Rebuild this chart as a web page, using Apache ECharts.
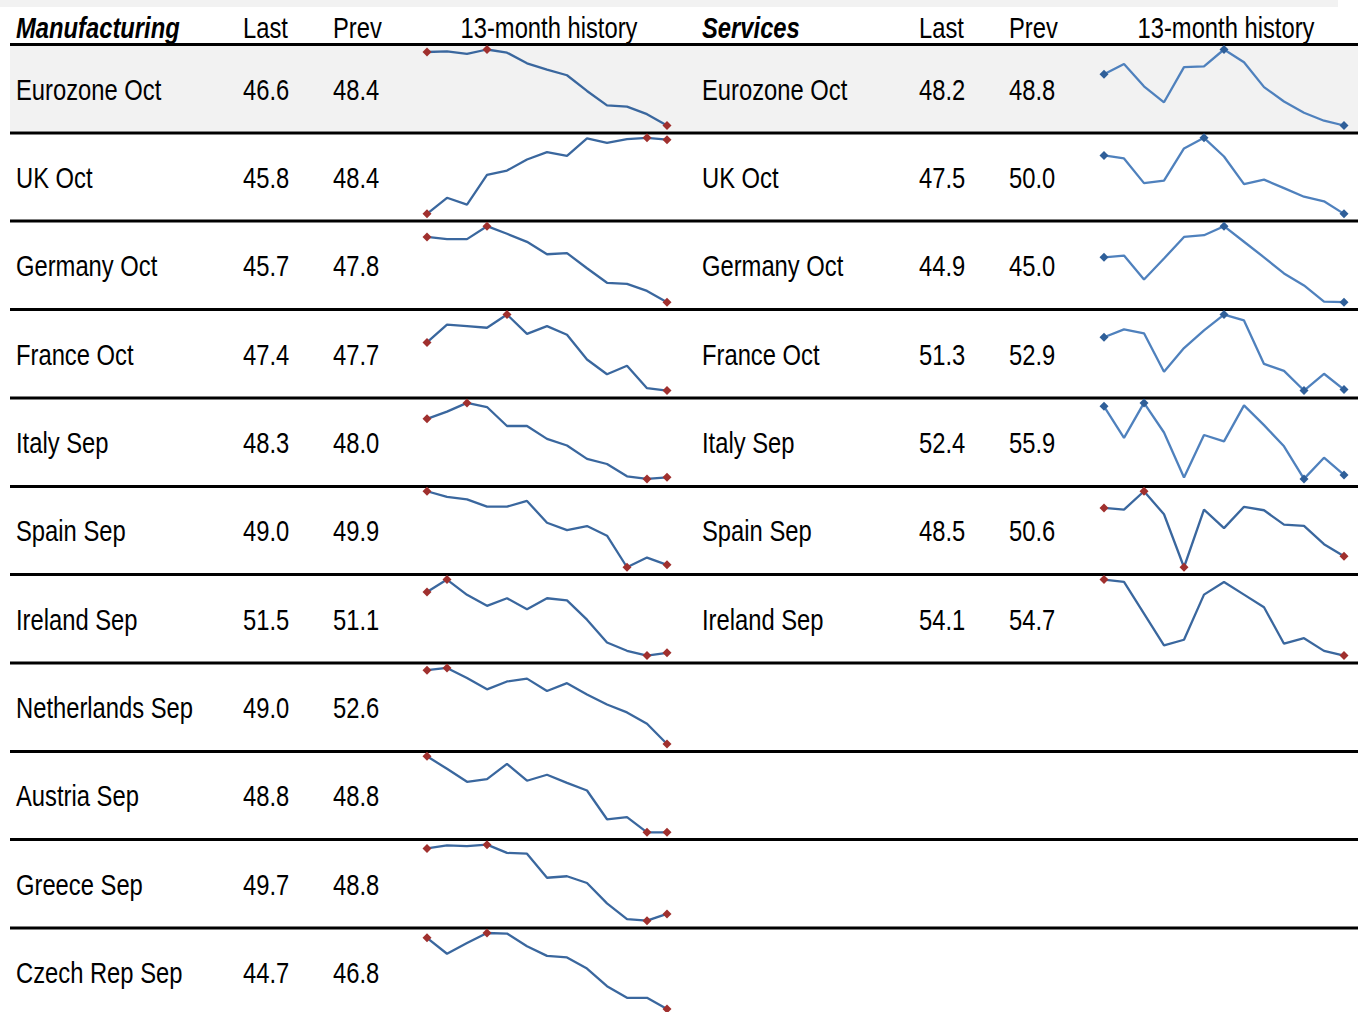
<!DOCTYPE html>
<html><head><meta charset="utf-8">
<script src="https://cdn.jsdelivr.net/npm/echarts@6/dist/echarts.min.js"></script>
<style>html,body{margin:0;padding:0;background:#fff}#c{width:1365px;height:1012px}</style>
</head><body><div id="c"></div>
<script>
// ---- data ----
const mfgHeader = ['Manufacturing', 'Last', 'Prev', '13-month history'];
const srvHeader = ['Services', 'Last', 'Prev', '13-month history'];

const mfgNames = ['Eurozone Oct', 'UK Oct', 'Germany Oct', 'France Oct', 'Italy Sep', 'Spain Sep', 'Ireland Sep', 'Netherlands Sep', 'Austria Sep', 'Greece Sep', 'Czech Rep Sep'];
const mfgLast = ['46.6', '45.8', '45.7', '47.4', '48.3', '49.0', '51.5', '49.0', '48.8', '49.7', '44.7'];
const mfgPrev = ['48.4', '48.4', '47.8', '47.7', '48.0', '49.9', '51.1', '52.6', '48.8', '48.8', '46.8'];

const srvNames = ['Eurozone Oct', 'UK Oct', 'Germany Oct', 'France Oct', 'Italy Sep', 'Spain Sep', 'Ireland Sep'];
const srvLast = ['48.2', '47.5', '44.9', '51.3', '52.4', '48.5', '54.1'];
const srvPrev = ['48.8', '50.0', '45.0', '52.9', '55.9', '50.6', '54.7'];

// 13-month histories (as plotted, left to right)
const mEurozone = [58.3, 58.4, 58.0, 58.7, 58.2, 56.5, 55.5, 54.6, 52.1, 49.8, 49.6, 48.4, 46.6];
const mUK = [45.8, 48.4, 47.3, 52.1, 52.8, 54.6, 55.8, 55.2, 58.0, 57.3, 57.9, 58.1, 57.8];
const mGermany = [57.8, 57.4, 57.4, 59.8, 58.4, 56.9, 54.6, 54.8, 52.0, 49.3, 49.1, 47.8, 45.7];
const mFrance = [53.6, 55.9, 55.7, 55.5, 57.2, 54.7, 55.7, 54.6, 51.4, 49.5, 50.6, 47.7, 47.4];
const mItaly = [59.7, 61.1, 62.8, 62.0, 58.3, 58.3, 55.8, 54.5, 51.9, 50.9, 48.5, 48.0, 48.3];
const mSpain = [58.1, 57.4, 57.1, 56.2, 56.2, 56.9, 54.2, 53.3, 53.8, 52.6, 48.7, 49.9, 49.0];
const mIreland = [60.3, 62.1, 59.9, 58.3, 59.4, 57.8, 59.4, 59.1, 56.3, 53.0, 51.8, 51.1, 51.5];
const mNetherlands = [62.1, 62.5, 60.7, 58.7, 60.1, 60.6, 58.4, 59.8, 57.8, 56.0, 54.6, 52.6, 49.0];
const mAustria = [62.8, 60.5, 58.1, 58.6, 61.4, 58.3, 59.4, 57.9, 56.5, 51.2, 51.6, 48.8, 48.8];
const mGreece = [58.4, 58.8, 58.7, 58.9, 57.8, 57.7, 54.5, 54.7, 53.8, 51.1, 49.0, 48.8, 49.7];
const mCzech = [58.1, 55.1, 57.1, 59.0, 58.9, 56.5, 54.7, 54.4, 52.3, 49.0, 46.8, 46.8, 44.7];

const sEurozone = [54.6, 55.9, 53.1, 51.1, 55.5, 55.6, 57.7, 56.1, 53.0, 51.2, 49.8, 48.8, 48.2];
const sUK = [59.1, 58.5, 53.6, 54.1, 60.5, 62.6, 58.9, 53.4, 54.3, 52.6, 50.9, 50.0, 47.5];
const sGermany = [52.4, 52.7, 48.7, 52.2, 55.8, 56.1, 57.6, 55.0, 52.4, 49.7, 47.7, 45.0, 44.9];
const sFrance = [56.6, 57.4, 57.0, 53.1, 55.5, 57.3, 58.9, 58.3, 53.9, 53.2, 51.2, 52.9, 51.3];
const sItaly = [66.3, 59.9, 67.0, 61.0, 51.9, 60.5, 59.2, 66.5, 62.5, 58.2, 51.6, 55.9, 52.4];
const sSpain = [56.9, 56.6, 59.8, 55.8, 46.6, 56.6, 53.4, 57.1, 56.5, 54.0, 53.8, 50.6, 48.5];
const sIreland = [63.7, 63.4, 59.4, 55.4, 56.1, 61.8, 63.4, 61.8, 60.2, 55.6, 56.3, 54.7, 54.1];

const mfgHistory = [mEurozone, mUK, mGermany, mFrance, mItaly, mSpain, mIreland, mNetherlands, mAustria, mGreece, mCzech];
const srvHistory = [sEurozone, sUK, sGermany, sFrance, sItaly, sSpain, sIreland];
const months = ['1','2','3','4','5','6','7','8','9','10','11','12','13'];

// ---- styles ----
const FONT = "'Liberation Sans', Arial, sans-serif";
const NARROW = 0.82; // emulate a narrow face
const styleRed = { line: '#3a679e', mark: '#a0302e' };
const styleBlue = { line: '#4f81bd', mark: '#2f5f99' };
const srvStyles = [styleBlue, styleBlue, styleBlue, styleBlue, styleBlue, styleRed, styleRed];

const ROW0 = 44.5, ROWH = 88.35;
const lineY = k => ROW0 + k * ROWH;

const mfgCols = { name: 16, last: 243, prev: 333, histLeft: 427, histCenter: 549 };
const srvCols = { name: 702, last: 919, prev: 1009, histLeft: 1104, histCenter: 1226 };

const chart = echarts.init(document.getElementById('c'), null, { renderer: 'svg' });

const grids = [], xAxes = [], yAxes = [], series = [], graphics = [];

// background elements
graphics.push({ type: 'rect', shape: { x: 0, y: 0, width: 1338, height: 7 }, style: { fill: '#f2f2f2' }, z: 0 });
graphics.push({ type: 'rect', shape: { x: 10, y: lineY(0) + 1.5, width: 1348, height: ROWH - 3 }, style: { fill: '#f2f2f2' }, z: 0 });
for (let k = 0; k <= 10; k++) {
  const y = Math.round(lineY(k) * 2) / 2;
  graphics.push({ type: 'line', shape: { x1: 10, y1: y, x2: 1358, y2: y }, style: { stroke: '#000', lineWidth: 3.2 }, z: 1 });
}

function addText(x, y, text, opts) {
  graphics.push({
    type: 'text', x: x, y: y, z: 5, scaleX: NARROW, scaleY: 1,
    style: Object.assign({ text: text, font: '29px ' + FONT, fill: '#000', textAlign: 'left', textVerticalAlign: 'middle' }, opts || {})
  });
}

function headers(h, cols) {
  addText(cols.name, 28, h[0], { font: 'italic bold 29px ' + FONT });
  addText(cols.last, 28, h[1]);
  addText(cols.prev, 28, h[2]);
  addText(cols.histCenter, 28, h[3], { textAlign: 'center' });
}
headers(mfgHeader, mfgCols);
headers(srvHeader, srvCols);

function addRow(i, name, last, prev, hist, cols, st) {
  const cy = (lineY(i) + lineY(i + 1)) / 2 + 1;
  addText(cols.name, cy, name);
  addText(cols.last, cy, last);
  addText(cols.prev, cy, prev);

  const gi = grids.length;
  grids.push({ left: cols.histLeft, width: 240, top: lineY(i) + 5, height: 76, containLabel: false });
  xAxes.push({ type: 'category', gridIndex: gi, data: months, boundaryGap: false, show: false });
  yAxes.push({ type: 'value', gridIndex: gi, min: 'dataMin', max: 'dataMax', show: false, scale: true });

  const mx = Math.max.apply(null, hist), mn = Math.min.apply(null, hist);
  const marked = new Set([0, hist.length - 1, hist.indexOf(mx), hist.indexOf(mn)]);
  const data = hist.map((v, j) => marked.has(j)
    ? { value: v, symbol: 'diamond', symbolSize: 9, itemStyle: { color: st.mark } }
    : { value: v, symbol: 'none' });
  series.push({
    type: 'line', xAxisIndex: gi, yAxisIndex: gi, data: data,
    symbol: 'none', showAllSymbol: true, clip: false, silent: true,
    lineStyle: { color: st.line, width: 2.3 }, itemStyle: { color: st.mark },
    animation: false, z: 3
  });
}

mfgNames.forEach((n, i) => addRow(i, n, mfgLast[i], mfgPrev[i], mfgHistory[i], mfgCols, styleRed));
srvNames.forEach((n, i) => addRow(i, n, srvLast[i], srvPrev[i], srvHistory[i], srvCols, srvStyles[i]));

chart.setOption({
  backgroundColor: '#fff',
  animation: false,
  grid: grids, xAxis: xAxes, yAxis: yAxes, series: series,
  graphic: { elements: graphics }
});
</script></body></html>
